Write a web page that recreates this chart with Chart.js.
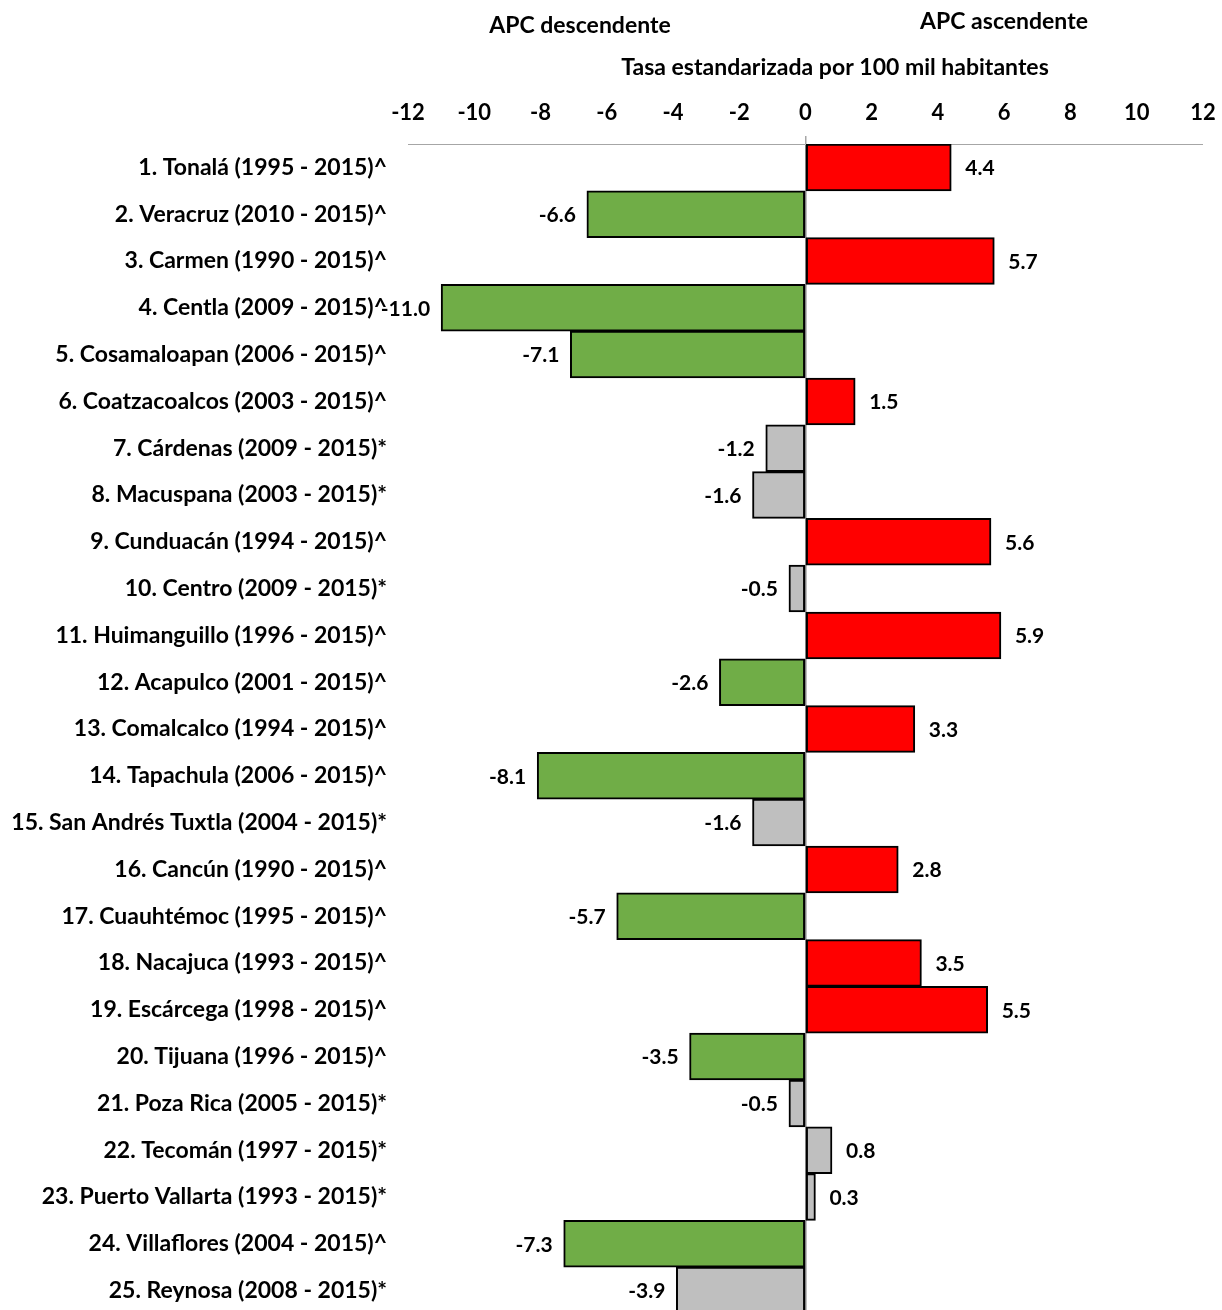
<!DOCTYPE html>
<html>
<head>
<meta charset="utf-8">
<script src="https://cdn.jsdelivr.net/npm/chart.js@4"></script>
<style>
html,body{margin:0;padding:0;background:#fff;overflow:hidden;}
canvas{display:block;}
</style>
</head>
<body>
<canvas id="c" width="1222" height="1314"></canvas>
<script>
const categories = [
  "1. Tonalá (1995 - 2015)^",
  "2. Veracruz (2010 - 2015)^",
  "3. Carmen (1990 - 2015)^",
  "4. Centla (2009 - 2015)^",
  "5. Cosamaloapan (2006 - 2015)^",
  "6. Coatzacoalcos (2003 - 2015)^",
  "7. Cárdenas (2009 - 2015)*",
  "8. Macuspana (2003 - 2015)*",
  "9. Cunduacán (1994 - 2015)^",
  "10. Centro (2009 - 2015)*",
  "11. Huimanguillo (1996 - 2015)^",
  "12. Acapulco (2001 - 2015)^",
  "13. Comalcalco (1994 - 2015)^",
  "14. Tapachula (2006 - 2015)^",
  "15. San Andrés Tuxtla (2004 - 2015)*",
  "16. Cancún (1990 - 2015)^",
  "17. Cuauhtémoc (1995 - 2015)^",
  "18. Nacajuca (1993 - 2015)^",
  "19. Escárcega (1998 - 2015)^",
  "20. Tijuana (1996 - 2015)^",
  "21. Poza Rica (2005 - 2015)*",
  "22. Tecomán (1997 - 2015)*",
  "23. Puerto Vallarta (1993 - 2015)*",
  "24. Villaflores (2004 - 2015)^",
  "25. Reynosa (2008 - 2015)*"
];
const apcValues = [4.4, -6.6, 5.7, -11.0, -7.1, 1.5, -1.2, -1.6, 5.6, -0.5, 5.9, -2.6, 3.3, -8.1, -1.6, 2.8, -5.7, 3.5, 5.5, -3.5, -0.5, 0.8, 0.3, -7.3, -3.9];
const xTicks = [-12, -10, -8, -6, -4, -2, 0, 2, 4, 6, 8, 10, 12];
const titleDesc = "APC descendente";
const titleAsc = "APC ascendente";
const axisTitle = "Tasa estandarizada por 100 mil habitantes";

const RED = '#FF0000', GREEN = '#70AD47', GRAY = '#BFBFBF';
const barColors = categories.map((c, i) => {
  const sig = c.trim().endsWith('^');
  if (!sig) return GRAY;
  return apcValues[i] >= 0 ? RED : GREEN;
});

const FONT = "Lato, 'Liberation Sans', sans-serif";

const labelPlugin = {
  id: 'labels',
  afterDatasetsDraw(chart) {
    const ctx = chart.ctx;
    const meta = chart.getDatasetMeta(0);
    ctx.save();
    ctx.font = "bold 21px " + FONT;
    ctx.fillStyle = '#000';
    ctx.textBaseline = 'middle';
    meta.data.forEach((el, i) => {
      const v = apcValues[i];
      const txt = v.toFixed(1);
      if (v >= 0) { ctx.textAlign = 'left'; ctx.fillText(txt, el.x + 14, el.y + 1); }
      else { ctx.textAlign = 'right'; ctx.fillText(txt, el.x - 11, el.y + 1); }
    });
    ctx.restore();
  },
  afterDraw(chart) {
    const ctx = chart.ctx;
    ctx.save();
    ctx.font = "bold 23px " + FONT;
    ctx.fillStyle = '#000';
    ctx.textAlign = 'center';
    ctx.textBaseline = 'middle';
    ctx.fillText(titleDesc, 580, 26);
    ctx.fillText(titleAsc, 1004, 22);
    ctx.fillText(axisTitle, 835, 68);
    ctx.restore();
  }
};

new Chart(document.getElementById('c'), {
  type: 'bar',
  data: {
    labels: categories,
    datasets: [{
      data: apcValues,
      backgroundColor: barColors,
      borderColor: '#000',
      borderWidth: 2,
      borderSkipped: false,
      barPercentage: 1,
      categoryPercentage: 1
    }]
  },
  options: {
    indexAxis: 'y',
    responsive: false,
    animation: false,
    devicePixelRatio: 1,
    layout: { padding: { top: 0, right: 19, bottom: 0, left: 0 } },
    plugins: { legend: { display: false }, tooltip: { enabled: false } },
    scales: {
      x: {
        position: 'top',
        min: -12, max: 12,
        afterBuildTicks: (s) => { s.ticks = xTicks.map(v => ({ value: v })); },
        afterFit: (s) => { s.height = 144; s.paddingLeft = 0; s.paddingRight = 0; },
        grid: {
          drawOnChartArea: true,
          drawTicks: true,
          tickLength: 8,
          tickColor: '#A6A6A6',
          color: (c) => (c.tick && c.tick.value === 0) ? '#808080' : 'rgba(0,0,0,0)',
          lineWidth: (c) => (c.tick && c.tick.value === 0) ? 1.5 : 0
        },
        border: { display: true, color: '#A6A6A6', width: 1 },
        ticks: {
          color: '#000',
          font: { family: FONT, size: 22, weight: 'bold' },
          padding: 10,
          maxRotation: 0,
          autoSkip: false
        }
      },
      y: {
        afterFit: (s) => { s.width = 408; s.paddingTop = 0; s.paddingBottom = 0; },
        grid: { display: false, drawTicks: false },
        border: { display: false },
        ticks: {
          color: '#000',
          font: { family: FONT, size: 23, weight: 'bold' },
          padding: 21,
          autoSkip: false
        }
      }
    }
  },
  plugins: [labelPlugin]
});
</script>
</body>
</html>
